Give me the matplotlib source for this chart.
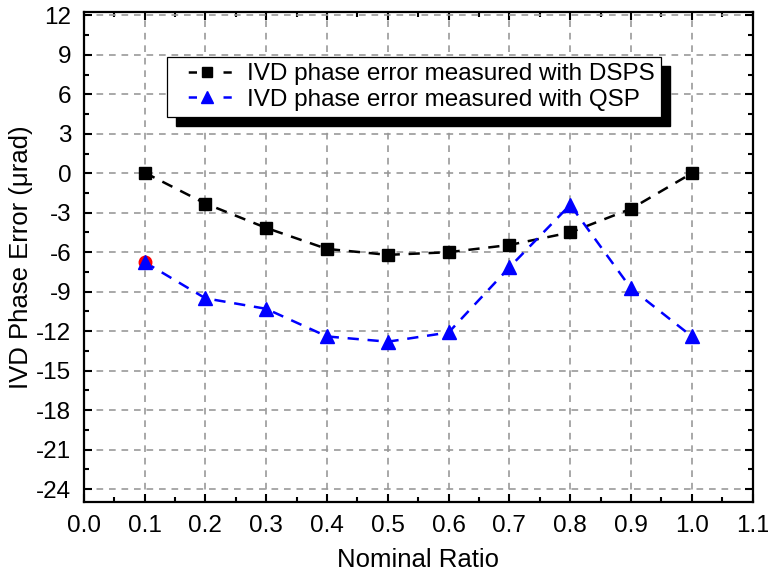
import numpy as np
import matplotlib
matplotlib.use("Agg")
import matplotlib.pyplot as plt
from matplotlib.patches import Rectangle
from matplotlib.ticker import MultipleLocator

plt.rcParams['font.family'] = ['Liberation Sans', 'DejaVu Sans']

# nominal ratios and measured phase errors (urad)
ratio = [0.1, 0.2, 0.3, 0.4, 0.5, 0.6, 0.7, 0.8, 0.9, 1.0]
err_dsps = [0.05, -2.3, -4.15, -5.75, -6.2, -6.0, -5.45, -4.5, -2.7, 0.0]
err_qsp = [-6.75, -9.5, -10.3, -12.4, -12.8, -12.1, -7.15, -2.4, -8.75, -12.4]
label_dsps = 'IVD phase error measured with DSPS'
label_qsp = 'IVD phase error measured with QSP'
xticks = np.round(np.arange(0, 1.101, 0.1), 1)
yticks = np.arange(-24, 13, 3)

fig = plt.figure(figsize=(7.68, 5.74), dpi=100)
ax = fig.add_axes([0.109, 0.125, 0.871, 0.854])

ax.grid(True, color='#999999', ls=(0, (4, 3.5)), lw=1.2)
ax.set_axisbelow(True)

ax.plot(ratio, err_dsps, color='black', ls=(0, (4.5, 3.5)), lw=1.8, zorder=3)
ax.plot(ratio, err_qsp, color='blue', ls=(0, (4.5, 3.5)), lw=1.8, zorder=3)

ax.plot(ratio[0], err_qsp[0], 'o', color='red', ms=9, zorder=3.5)
ax.plot(ratio, err_dsps, 's', color='black', ms=8.5, zorder=4)
ax.plot(ratio, err_qsp, '^', color='blue', ms=10.5, zorder=4)

# legend handles: short dash, marker, short dash
leg_dash = (7.8, (3.3, 10.6))
hd, = ax.plot([], [], color='black', ls=leg_dash, lw=1.8, marker='s', ms=7)
hq, = ax.plot([], [], color='blue', ls=leg_dash, lw=1.8, marker='^', ms=8.5)

ax.set_xlim(0, 1.1)
ax.set_ylim(-25, 12.25)
ax.set_xticks(xticks)
ax.set_xticklabels(['%.1f' % v for v in xticks])
ax.set_yticks(yticks)
ax.set_yticklabels(['%d' % v for v in yticks])
ax.xaxis.set_minor_locator(MultipleLocator(0.05))
ax.yaxis.set_minor_locator(MultipleLocator(1.5))

ax.tick_params(which='both', direction='in', top=True, right=True,
               labelsize=17.5, width=1.5, pad=9)
ax.tick_params(which='major', length=6)
ax.tick_params(which='minor', length=3.5)
for s in ax.spines.values():
    s.set_linewidth(1.6)

ax.set_xlabel('Nominal Ratio', fontsize=18.5, labelpad=8)
ax.set_ylabel('IVD Phase Error (μrad)', fontsize=18.5, labelpad=2)

leg = ax.legend([hd, hq], [label_dsps, label_qsp], loc='upper left',
                bbox_to_anchor=(0.124, 0.908), fontsize=17.5, frameon=True,
                fancybox=False, edgecolor='black', framealpha=1,
                handlelength=2.8, handletextpad=0.25, borderpad=0.25,
                labelspacing=0.15, borderaxespad=0)
leg.get_frame().set_linewidth(0.9)
leg.set_zorder(6)

# solid drop shadow behind the legend box
fig.canvas.draw()
bb = leg.get_window_extent()
ax.add_patch(Rectangle((bb.x0 + 9, bb.y0 - 9), bb.width, bb.height,
                       transform=None, color='black', zorder=5.9, clip_on=False))

fig.savefig('out.png', dpi=100)
